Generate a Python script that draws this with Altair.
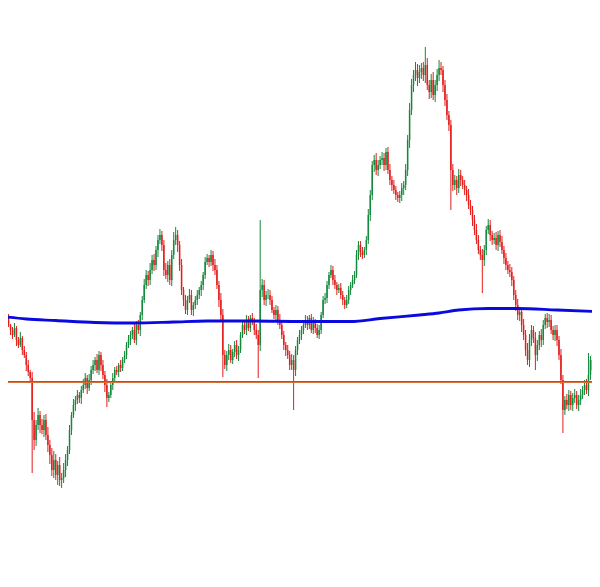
import altair as alt
import pandas as pd

# Close prices, one per bar
closes = [
    282, 275, 270, 265, 272, 260, 255, 262, 250, 245, 235, 228, 222, 180, 160, 175, 185, 175, 170, 180,
    165, 155, 145, 130, 140, 125, 135, 120, 122, 130, 140, 150, 170, 185, 195, 200, 205, 202, 210, 215,
    222, 212, 220, 230, 235, 240, 230, 245, 235, 225, 215, 202, 205, 215, 222, 230, 228, 235, 232, 240,
    245, 255, 260, 265, 270, 260, 275, 270, 285, 300, 315, 325, 320, 330, 340, 335, 350, 360, 365, 355,
    330, 325, 335, 320, 345, 360, 365, 355, 335, 310, 300, 290, 300, 305, 290, 295, 300, 305, 310, 315,
    325, 338, 342, 338, 345, 335, 330, 315, 300, 285, 245, 235, 245, 250, 240, 248, 255, 245, 250, 265,
    275, 270, 280, 272, 282, 278, 270, 265, 255, 310, 315, 300, 305, 305, 300, 290, 285, 290, 280, 275,
    265, 255, 250, 245, 235, 240, 230, 250, 260, 265, 270, 275, 280, 275, 282, 270, 278, 272, 265, 270,
    285, 300, 302, 315, 325, 330, 320, 315, 310, 312, 305, 300, 295, 300, 310, 315, 320, 325, 345, 355,
    348, 345, 350, 360, 385, 405, 435, 440, 430, 435, 440, 442, 435, 448, 430, 420, 415, 410, 405, 402,
    405, 412, 415, 430, 460, 490, 515, 525, 530, 522, 528, 532, 525, 535, 515, 508, 520, 505, 515, 525,
    532, 530, 515, 500, 485, 475, 430, 415, 420, 412, 425, 420, 415, 410, 405, 395, 390, 380, 370, 360,
    350, 345, 340, 350, 370, 375, 365, 360, 362, 355, 365, 358, 350, 342, 335, 330, 328, 320, 305, 295,
    285, 288, 275, 265, 250, 240, 260, 270, 262, 245, 255, 265, 260, 275, 282, 278, 280, 270, 265, 270,
    260, 245, 220, 190, 200, 195, 205, 195, 202, 205, 195, 200, 205, 210, 215, 210, 225, 240, 230, 215,
]
first_open = 285

# Upper and lower wick lengths per bar
upper_wick = [
    2, 4, 1, 3, 5, 2, 3, 6, 2, 4, 3, 5, 2, 6, 8, 5, 7, 4, 6, 5,
    6, 8, 5, 7, 9, 6, 4, 8, 5, 7, 6, 4, 5, 3, 6, 4, 5, 3, 4, 6,
    5, 3, 6, 4, 5, 3, 6, 4, 3, 5, 4, 6, 3, 4, 5, 3, 4, 2, 5, 3,
    4, 3, 5, 4, 3, 6, 4, 5, 3, 4, 6, 5, 4, 7, 5, 6, 4, 5, 6, 4,
    5, 7, 4, 6, 5, 8, 6, 5, 4, 6, 3, 5, 4, 6, 5, 3, 4, 5, 3, 4,
    3, 5, 4, 3, 5, 4, 6, 5, 4, 7, 6, 5, 4, 6, 5, 3, 4, 5, 4, 3,
    4, 3, 5, 4, 3, 5, 4, 6, 5, 7, 6, 5, 4, 6, 5, 4, 3, 5, 4, 6,
    5, 4, 3, 5, 4, 6, 5, 4, 3, 5, 4, 3, 5, 4, 3, 4, 5, 3, 4, 5,
    3, 4, 5, 4, 3, 5, 4, 5, 3, 4, 5, 4, 3, 5, 4, 3, 5, 4, 5, 4,
    4, 5, 3, 4, 6, 5, 4, 5, 7, 5, 4, 6, 5, 4, 5, 6, 4, 5, 4, 3,
    4, 5, 4, 6, 5, 7, 6, 5, 8, 6, 7, 5, 6, 4, 7, 5, 6, 8, 5, 6,
    5, 6, 4, 5, 6, 4, 5, 6, 5, 4, 6, 5, 4, 5, 4, 6, 5, 4, 5, 6,
    5, 4, 6, 5, 4, 6, 5, 4, 5, 6, 4, 5, 6, 4, 5, 4, 6, 5, 4, 5,
    6, 5, 4, 6, 5, 7, 6, 5, 4, 6, 5, 4, 6, 5, 4, 5, 6, 5, 4, 5,
    5, 4, 6, 5, 4, 6, 5, 4, 5, 6, 4, 5, 6, 4, 5, 6, 5, 4, 6, 5,
]
lower_wick = [
    3, 2, 5, 4, 2, 6, 3, 2, 5, 3, 6, 4, 3, 9, 7, 6, 5, 8, 4, 7,
    5, 7, 9, 6, 8, 5, 10, 6, 8, 5, 7, 6, 4, 5, 3, 6, 4, 5, 6, 3,
    4, 6, 3, 5, 4, 6, 3, 5, 6, 4, 7, 5, 4, 3, 5, 4, 3, 5, 4, 3,
    3, 4, 3, 5, 4, 3, 5, 4, 6, 5, 3, 4, 6, 5, 4, 6, 5, 7, 4, 6,
    6, 4, 7, 5, 6, 4, 5, 7, 6, 5, 6, 4, 5, 3, 5, 6, 4, 5, 4, 6,
    5, 4, 3, 5, 4, 6, 5, 4, 7, 6, 5, 4, 6, 5, 3, 4, 5, 4, 6, 3,
    3, 4, 5, 3, 4, 3, 5, 4, 5, 6, 7, 5, 6, 4, 5, 3, 4, 6, 5, 4,
    4, 5, 6, 4, 5, 5, 4, 6, 5, 4, 5, 4, 3, 5, 4, 3, 4, 5, 3, 4,
    4, 3, 4, 5, 4, 3, 5, 4, 5, 3, 4, 5, 4, 3, 4, 5, 3, 4, 3, 5,
    5, 4, 3, 5, 4, 6, 5, 7, 5, 6, 4, 5, 6, 5, 4, 5, 6, 4, 5, 4,
    5, 6, 7, 5, 6, 8, 5, 7, 6, 8, 5, 7, 6, 8, 5, 7, 6, 5, 7, 6,
    6, 5, 7, 6, 5, 6, 4, 6, 5, 7, 5, 6, 4, 5, 6, 4, 5, 6, 5, 4,
    4, 5, 4, 6, 5, 4, 6, 5, 4, 5, 6, 5, 4, 6, 5, 4, 5, 6, 5, 6,
    5, 6, 7, 5, 6, 5, 7, 6, 5, 4, 6, 5, 7, 5, 4, 6, 5, 4, 5, 6,
    6, 5, 4, 6, 5, 4, 6, 5, 6, 5, 4, 6, 5, 4, 5, 4, 6, 5, 4, 6,
]

# Long wicks visible in the picture (bar index -> price)
high_spikes = {78: 370, 86: 373, 129: 380, 165: 333, 193: 450, 213: 553, 220: 540, 296: 247}
low_spikes = {13: 127, 14: 150, 28: 113, 51: 193, 110: 223, 128: 222, 146: 190, 226: 390,
              242: 307, 265: 237, 269: 230, 283: 167}

# Moving average (bar index, price)
ma_bar = [0, 10, 25, 45, 65, 85, 102, 125, 150, 175, 190, 210, 220, 230, 245, 260, 280, 300]
ma_val = [283, 281, 279.5, 277.5, 277, 278, 279, 279, 278.5, 278.5, 281.5, 285, 287, 290, 291.5, 291.5, 290, 288.5]

# Horizontal levels
level_green = 218.5
level_orange = 217.5

rows = []
prev = first_open
for i, c in enumerate(closes):
    o = prev
    hi = max(max(o, c) + upper_wick[i], high_spikes.get(i, c))
    lo = min(min(o, c) - lower_wick[i], low_spikes.get(i, c))
    rows.append({"bar": i, "open": o, "close": c, "high": hi, "low": lo,
                 "dir": "up" if c >= o else "down"})
    prev = c
df = pd.DataFrame(rows)

xs = alt.Scale(domain=[3.25, 295.25], nice=False, zero=False)
ys = alt.Scale(domain=[21, 592], nice=False, zero=False)
col = alt.Color("dir:N", scale=alt.Scale(domain=["up", "down"], range=["#15883c", "#e41c1c"]), legend=None)

base = alt.Chart(df)
wick = base.mark_rule(strokeWidth=1, clip=True).encode(
    x=alt.X("bar:Q", scale=xs, axis=None),
    y=alt.Y("low:Q", scale=ys, axis=None),
    y2="high:Q",
    color=col,
)
body = base.mark_bar(size=1.5, clip=True).encode(
    x=alt.X("bar:Q", scale=xs, axis=None),
    y=alt.Y("open:Q", scale=ys, axis=None),
    y2="close:Q",
    color=col,
)

ma_df = pd.DataFrame({"bar": ma_bar, "ma": ma_val})
ma = alt.Chart(ma_df).mark_line(color="#0a0ae0", strokeWidth=2.8, interpolate="monotone", clip=True).encode(
    x=alt.X("bar:Q", scale=xs, axis=None),
    y=alt.Y("ma:Q", scale=ys, axis=None),
)

lv_green = alt.Chart(pd.DataFrame({"level": [level_green]})).mark_rule(color="#3a8a4a", strokeWidth=1).encode(
    y=alt.Y("level:Q", scale=ys, axis=None)
)
lv_orange = alt.Chart(pd.DataFrame({"level": [level_orange]})).mark_rule(color="#d9703a", strokeWidth=1).encode(
    y=alt.Y("level:Q", scale=ys, axis=None)
)

chart = alt.layer(wick, body, lv_green, lv_orange, ma).properties(
    width=584, height=571, padding=0, autosize=alt.AutoSizeParams(type="none"), background="white"
).configure_view(stroke=None)

chart.save("out.html", embed_options={"renderer": "svg", "actions": False})
